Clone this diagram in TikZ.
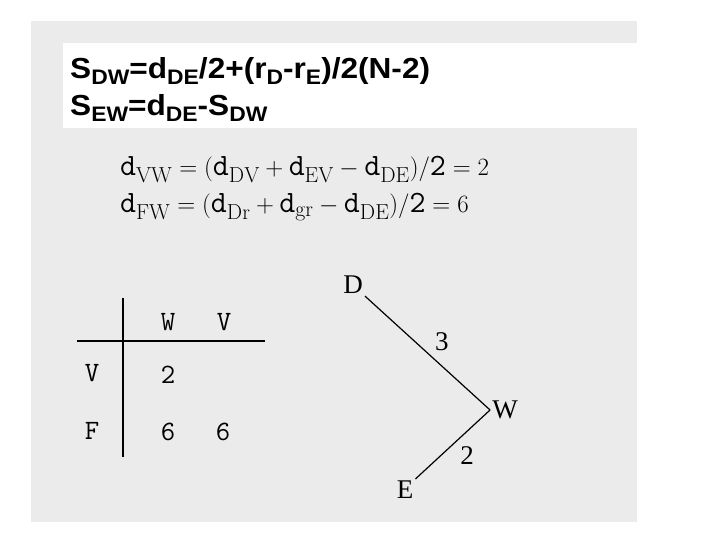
\documentclass[tikz,border=0pt]{standalone}
\usepackage{fontspec}
\newfontfamily\arialfont{Liberation Sans}
\newfontfamily\timesfont{Liberation Serif}
\definecolor{scangray}{RGB}{235,235,235}
\newcommand\dn[1]{\raisebox{-6pt}{\fontsize{21}{21}\selectfont #1}}
\newcommand\dd[1]{\mathtt{d}_{\mathrm{#1}}}
\newcommand\widen[1]{\scalebox{1.09}[1]{#1}}
\tikzset{
  toptext/.style={font=\arialfont\bfseries\fontsize{29}{29}\selectfont,inner sep=0pt,anchor=base west},
  formula/.style={font=\fontsize{31}{31}\selectfont,inner sep=0pt,anchor=base west},
  cell/.style={font=\ttfamily\fontsize{28}{28}\selectfont,inner sep=0pt},
  leaf/.style={font=\timesfont\fontsize{27}{27}\selectfont,inner sep=2pt}
}

\begin{document}
\begin{tikzpicture}[x=1pt,y=-1pt]
\useasboundingbox[fill=white] (0,0) rectangle (720,540);
\fill[scangray] (31,21) rectangle (637,522);
\fill[white] (63,43) rectangle (637,128);

  \node[toptext] (sdw) at (70,79) {\widen{S\dn{DW}=d\dn{DE}/2+(r\dn{D}-r\dn{E})/2(N-2)}};
  \node[toptext] (sew) at (70,116) {\widen{S\dn{EW}=d\dn{DE}-S\dn{DW}}};

  \node[formula] (dvw) at (120,176) {$\dd{VW} = \mathtt{(}\dd{DV} + \dd{EV} - \dd{DE}\mathtt{)/2} = 2$};
  \node[formula] (dfw) at (120,213) {$\dd{FW} = \mathtt{(}\dd{Dr} + \dd{gr} - \dd{DE}\mathtt{)/2} = 6$};

  \draw[line width=1.5pt] (123,298)--(123,457);
  \draw[line width=2pt] (77,341)--(265,341);
  \node[cell] (hw) at (168,322) {W};
  \node[cell] (hv) at (224,322) {V};
  \node[cell] (rv) at (92,373) {V};
  \node[cell] (vw) at (168,375) {2};
  \node[cell] (rf) at (92,431) {F};
  \node[cell] (fw) at (168,432) {6};
  \node[cell] (fv) at (223,432) {6};

  \node[leaf] (D) at (353,285) {D};
  \node[leaf] (W) at (505,410) {W};
  \node[leaf] (E) at (405,490) {E};
  \draw[line width=1.2pt] (D.south east)--(W.west) node[midway,anchor=south west,leaf,xshift=5pt]{3};
  \draw[line width=1.2pt] (W.west)--(E.north east) node[midway,anchor=north west,leaf,xshift=5pt]{2};

 \end{tikzpicture}
\end{document}
